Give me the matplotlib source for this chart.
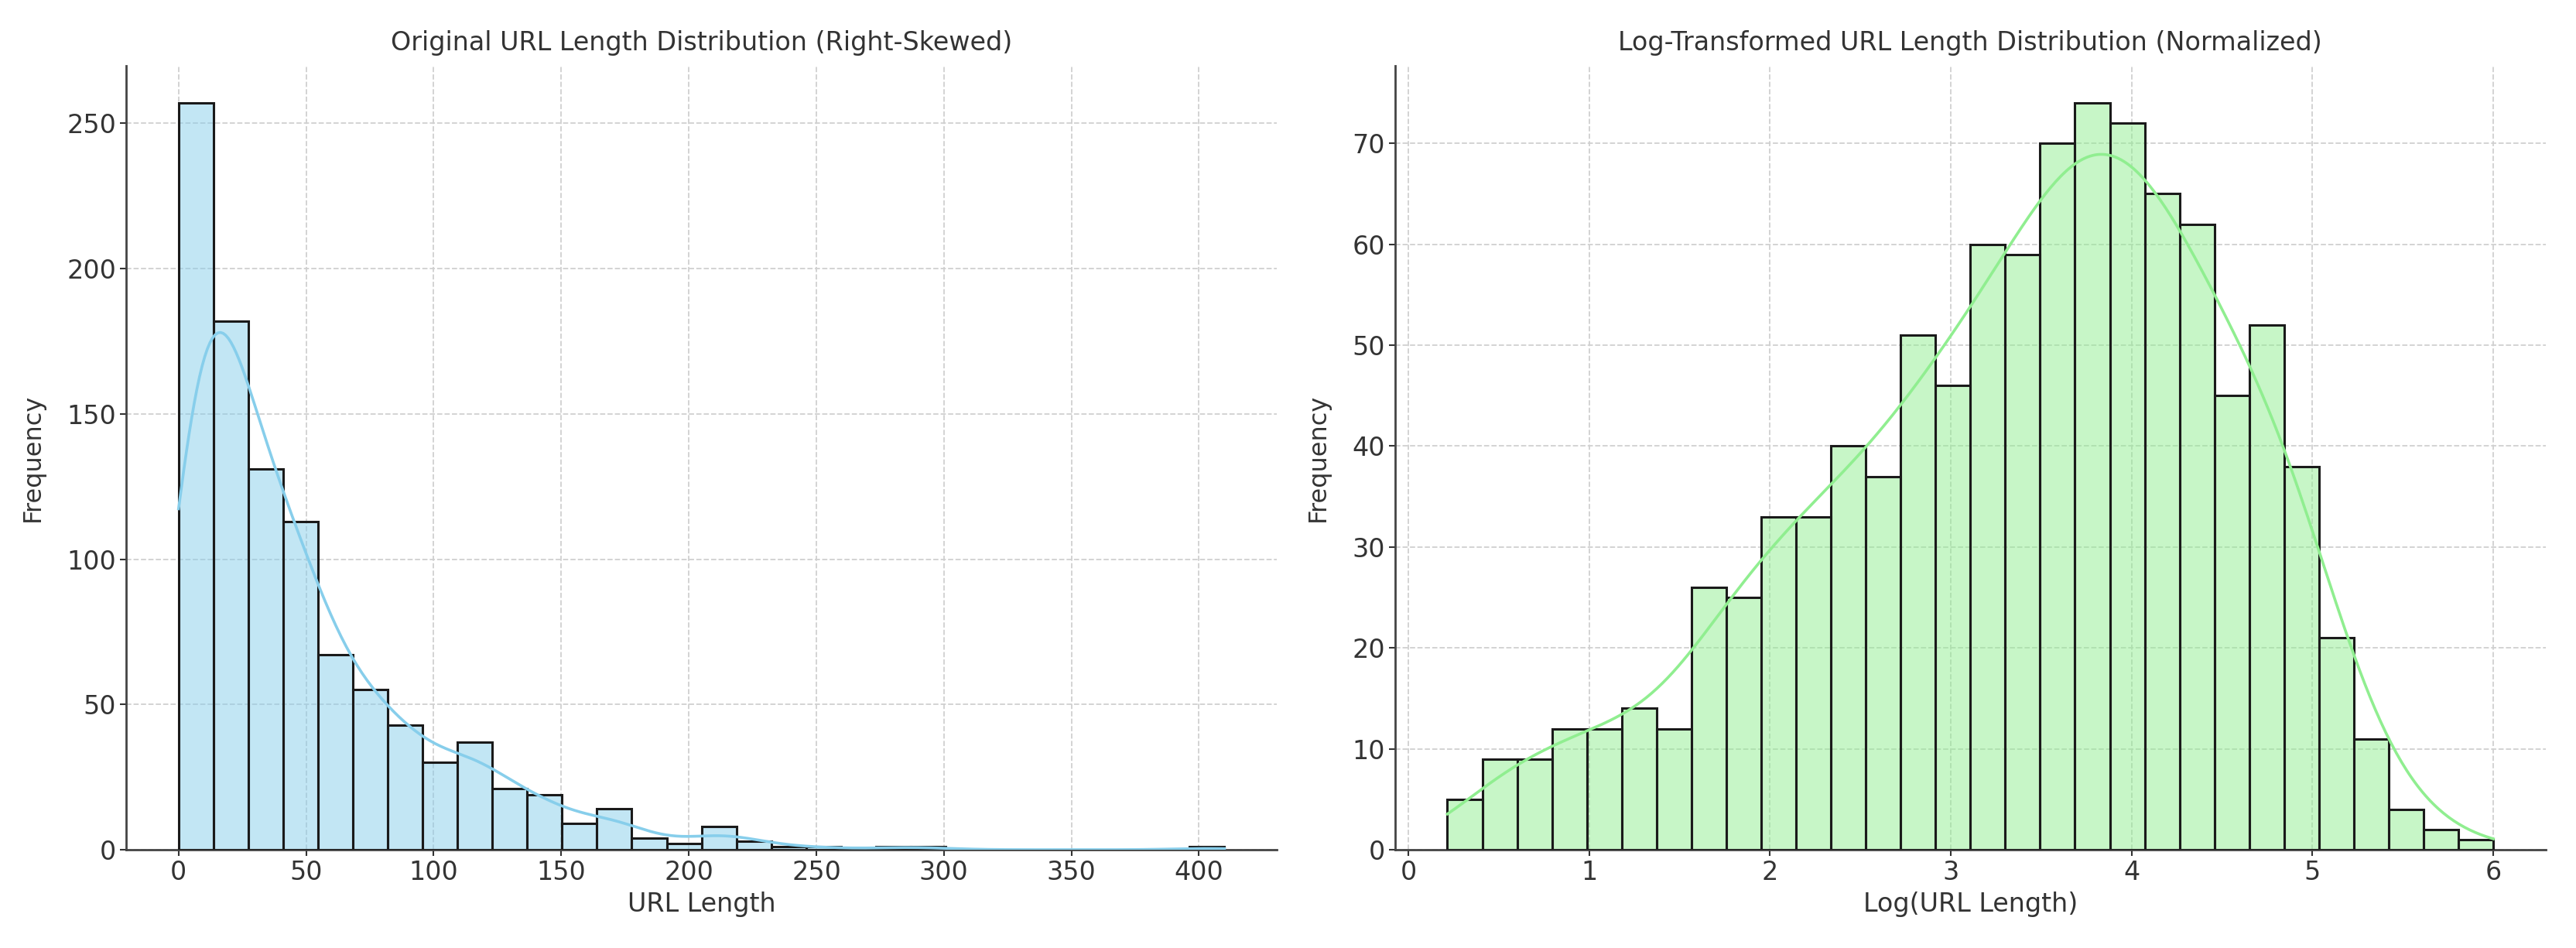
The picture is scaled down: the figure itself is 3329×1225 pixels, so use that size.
import numpy as np
import matplotlib
matplotlib.use('Agg')
import matplotlib.pyplot as plt

# --------------------------------------------- #
# Histogram data #
# --------------------------------------------- #
url_len_edges = np.linspace(0, 410, 31)
url_len_counts = [257, 182, 131, 113, 67, 55, 43, 30, 37, 21,
                  19, 9, 14, 4, 2, 8, 3, 1, 1, 0,
                  1, 1, 0, 0, 0, 0, 0, 0, 0, 1]

log_len_edges = np.linspace(0.216, 6.0, 31)
log_len_counts = [5, 9, 9, 12, 12, 14, 12, 26, 25, 33,
                  33, 40, 37, 51, 46, 60, 59, 70, 74, 72,
                  65, 62, 45, 52, 38, 21, 11, 4, 2, 1]

titles = ['Original URL Length Distribution (Right-Skewed)',
          'Log-Transformed URL Length Distribution (Normalized)']
xlabels = ['URL Length', 'Log(URL Length)']
colors = ['skyblue', 'lightgreen']
bw_adjust = [1.08, 1.0]

text_color = '#333333'
font_size = 24
edge_width = 2.2
line_width = 2.6


def weighted_kde(edges, counts, adjust=1.0, n_pts=400):
    # gaussian kde (scott rule) on bin centres, scaled to counts
    centres = 0.5 * (edges[:-1] + edges[1:])
    w = np.asarray(counts, dtype=float)
    n = w.sum()
    mean = np.sum(w * centres) / n
    std = np.sqrt(np.sum(w * (centres - mean) ** 2) / n)
    bw = adjust * std * n ** (-1 / 5)
    xs = np.linspace(edges[0], edges[-1], n_pts)
    dens = np.zeros_like(xs)
    for c, k in zip(centres, w):
        dens += k * np.exp(-0.5 * ((xs - c) / bw) ** 2)
    dens /= (n * bw * np.sqrt(2 * np.pi))
    binw = edges[1] - edges[0]
    return xs, dens * n * binw


plt.rcParams['font.family'] = 'DejaVu Sans'
plt.rcParams['text.color'] = text_color
plt.rcParams['axes.labelcolor'] = text_color
plt.rcParams['xtick.color'] = text_color
plt.rcParams['ytick.color'] = text_color

fig = plt.figure(figsize=(33.3, 12.25), dpi=100)
ax_left = fig.add_axes([0.049, 0.1037, 0.4465, 0.827])
ax_right = fig.add_axes([0.5414, 0.1037, 0.4465, 0.827])

datasets = [(url_len_edges, url_len_counts), (log_len_edges, log_len_counts)]

for ax, (edges, counts), col, title, xlab, adj in zip([ax_left, ax_right], datasets,
                                                     colors, titles, xlabels, bw_adjust):
    widths = np.diff(edges)
    ax.bar(edges[:-1], counts, width=widths, align='edge', color=col,
           alpha=0.5, edgecolor='none', zorder=2)
    ax.bar(edges[:-1], counts, width=widths, align='edge', fill=False,
           edgecolor='#1a1a1a', linewidth=edge_width, zorder=3)
    xs, ys = weighted_kde(edges, counts, adj)
    ax.plot(xs, ys, color=col, linewidth=line_width, zorder=4)

    ax.set_title(title, fontsize=font_size, color=text_color, pad=14)
    ax.set_xlabel(xlab, fontsize=font_size, labelpad=6)
    ax.set_ylabel('Frequency', fontsize=font_size - 1, labelpad=20)
    ax.tick_params(labelsize=font_size, length=6, width=1.5)
    ax.grid(True, linestyle='--', color='#d0d0d0', linewidth=1.3, zorder=0)
    ax.set_axisbelow(True)
    for side in ['top', 'right']:
        ax.spines[side].set_visible(False)
    for side in ['left', 'bottom']:
        ax.spines[side].set_color('#444444')
        ax.spines[side].set_linewidth(2.0)
    ax.margins(x=0.05)
    ax.set_ylim(0, max(counts) * 1.05)

ax_left.set_xticks(np.arange(0, 401, 50))
ax_left.set_yticks(np.arange(0, 251, 50))
ax_right.set_xticks(np.arange(0, 7, 1))
ax_right.set_yticks(np.arange(0, 71, 10))

plt.savefig('out.png', dpi=100)
plt.close()
